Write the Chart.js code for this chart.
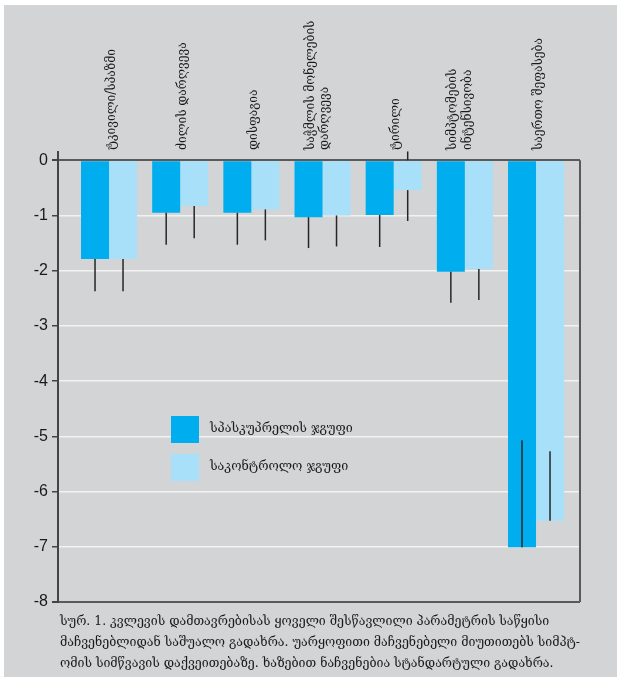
<!DOCTYPE html>
<html>
<head>
<meta charset="utf-8">
<script src="https://cdn.jsdelivr.net/npm/chart.js@4.4.1/dist/chart.umd.min.js"></script>
<style>
  html, body { margin: 0; padding: 0; background: #fff; }
  #panel { position: absolute; left: 4px; top: 5px; width: 613px; height: 672px; background: #d3d4d6; }
  #wrap { position: absolute; left: 0; top: 0; width: 622px; height: 680px; }
  #caption { position: absolute; left: 60px; top: 610px; font-family: "DejaVu Serif", serif; font-size: 12.4px; line-height: 21px; color: #1a1a1a; white-space: nowrap; }
</style>
</head>
<body>
<div id="panel"></div>
<div id="wrap"><canvas id="chart"></canvas></div>
<div id="caption">სურ. 1. კვლევის დამთავრებისას ყოველი შესწავლილი პარამეტრის საწყისი<br>მაჩვენებლიდან საშუალო გადახრა. უარყოფითი მაჩვენებელი მიუთითებს სიმპტ-<br>ომის სიმწვავის დაქვეითებაზე. ხაზებით ნაჩვენებია სტანდარტული გადახრა.</div>
<script>
// categories (multi-line labels as arrays)
const categories = [
  "ტკივილი/სპაზმი",
  "ძილის დარღვევა",
  "დისფაგია",
  ["საჭმლის მონელების", "დარღვევა"],
  "ტირილი",
  ["სიმპტომების", "ინტენსივობა"],
  "საერთო შეფასება"
];

const seriesNames = ["სპასკუპრელის ჯგუფი", "საკონტროლო ჯგუფი"];

// mean change from baseline
const spaValues  = [-1.79, -0.95, -0.95, -1.03, -0.99, -2.02, -7.01];
const ctrlValues = [-1.79, -0.83, -0.89, -1.00, -0.54, -1.97, -6.53];

// standard deviation lines: lower / upper end as drawn
const spaErrLow   = [-2.37, -1.53, -1.53, -1.59, -1.57, -2.58, -7.01];
const spaErrHigh  = [-1.79, -0.95, -0.95, -1.03, -0.99, -2.02, -5.07];
const ctrlErrLow  = [-2.37, -1.41, -1.45, -1.56, -1.10, -2.53, -6.53];
const ctrlErrHigh = [-1.79, -0.83, -0.89, -1.00, 0.16, -1.97, -5.27];

const yTicks = [0, -1, -2, -3, -4, -5, -6, -7, -8];

const errLow = [spaErrLow, ctrlErrLow];
const errHigh = [spaErrHigh, ctrlErrHigh];
const values = [spaValues, ctrlValues];

const toPoints = arr => arr.map((v, i) => ({ x: i, y: v }));

// error lines: only the part outside the bar, unless it sits fully inside
const whiskers = {
  id: "whiskers",
  afterDatasetsDraw(chart) {
    const ctx = chart.ctx;
    const y = chart.scales.y;
    ctx.save();
    ctx.strokeStyle = "#262626";
    ctx.lineWidth = 1.5;
    values.forEach((vals, d) => {
      const meta = chart.getDatasetMeta(d);
      vals.forEach((v, i) => {
        const lo = errLow[d][i], hi = errHigh[d][i];
        const barTop = Math.max(v, 0), barBot = Math.min(v, 0);
        let segs = [];
        if (lo < barBot) segs.push([lo, Math.min(hi, barBot)]);
        if (hi > barTop) segs.push([Math.max(lo, barTop), hi]);
        if (!segs.length) segs.push([lo, hi]);
        const x = meta.data[i].x;
        segs.forEach(([a, b]) => {
          ctx.beginPath();
          ctx.moveTo(x, y.getPixelForValue(a));
          ctx.lineTo(x, y.getPixelForValue(b));
          ctx.stroke();
        });
      });
    });
    ctx.restore();
  }
};

// right border of the box, from 0 down to the bottom
const frame = {
  id: "frame",
  afterDraw(chart) {
    const ctx = chart.ctx;
    const y = chart.scales.y;
    const r = chart.chartArea.right;
    ctx.save();
    ctx.strokeStyle = "#5a5a5a";
    ctx.lineWidth = 2;
    ctx.beginPath();
    ctx.moveTo(r, y.getPixelForValue(yTicks[0]));
    ctx.lineTo(r, y.getPixelForValue(yTicks[yTicks.length - 1]));
    ctx.stroke();
    ctx.restore();
  }
};

// legend inside the plot
const boxLegend = {
  id: "boxLegend",
  afterDraw(chart) {
    const ctx = chart.ctx;
    const left = chart.chartArea.left + 113;
    const top = chart.chartArea.top + 264;
    ctx.save();
    ctx.font = '12.5px "DejaVu Serif"';
    ctx.textBaseline = "middle";
    chart.data.datasets.forEach((ds, k) => {
      const ty = top + k * 38;
      ctx.fillStyle = ds.backgroundColor;
      ctx.fillRect(left, ty, 28, 27);
      ctx.fillStyle = "#1a1a1a";
      ctx.fillText(ds.label, left + 39, ty + 13);
    });
    ctx.restore();
  }
};

new Chart(document.getElementById("chart"), {
  type: "bar",
  data: {
    datasets: [
      { label: seriesNames[0], data: toPoints(spaValues), backgroundColor: "#00adee" },
      { label: seriesNames[1], data: toPoints(ctrlValues), backgroundColor: "#a9e0f9" }
    ]
  },
  options: {
    responsive: true,
    maintainAspectRatio: false,
    animation: false,
    categoryPercentage: 0.787,
    barPercentage: 1,
    layout: { padding: { top: 0, left: 0, right: 42, bottom: 78 } },
    plugins: { legend: { display: false }, tooltip: { enabled: false } },
    scales: {
      x: {
        type: "linear",
        position: "top",
        offset: false,
        min: -0.717,
        max: 6.618,
        afterBuildTicks: s => { s.ticks = categories.map((c, i) => ({ value: i })); },
        afterFit: s => { s.height = 152; },
        grid: { display: false, drawTicks: false, offset: false },
        border: { display: false },
        ticks: {
          autoSkip: false,
          minRotation: 90,
          maxRotation: 90,
          padding: 2,
          labelOffset: 17,
          color: "#1a1a1a",
          font: { family: "DejaVu Serif", size: 12 },
          callback: v => categories[v]
        }
      },
      y: {
        min: -8,
        max: 0.15,
        afterBuildTicks: s => { s.ticks = yTicks.map(v => ({ value: v })); },
        afterFit: s => { s.width = 58; },
        border: { color: "#444", width: 2 },
        grid: {
          color: c => (c.tick && (c.tick.value === 0 || c.tick.value === -8)) ? "#5a5a5a" : "#f2f2f2",
          lineWidth: c => (c.tick && (c.tick.value === 0 || c.tick.value === -8)) ? 2 : 1.5,
          tickColor: "#444",
          tickLength: 6
        },
        ticks: {
          padding: 4,
          color: "#1a1a1a",
          font: { family: "Liberation Sans", size: 16 }
        }
      }
    }
  },
  plugins: [whiskers, frame, boxLegend]
});
</script>
</body>
</html>
